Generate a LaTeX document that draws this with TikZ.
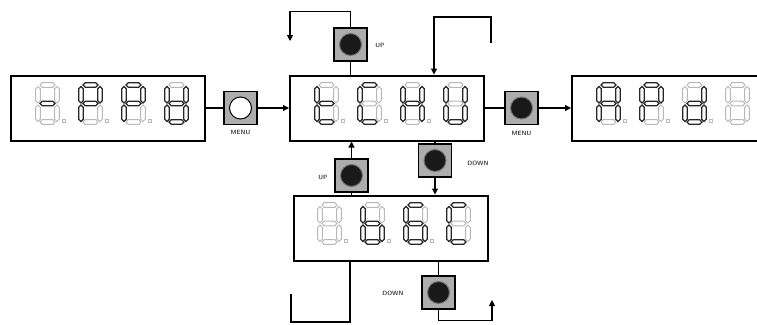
\documentclass[tikz,border=0pt]{standalone}
\usetikzlibrary{arrows.meta}

% segment outlines (local digit coordinates, 23 x 41)
\newcommand{\hseg}[2]{(#1+3,#2) -- (#1+5.2,#2-2.3) -- (#1+15.8,#2-2.3) -- (#1+18,#2) -- (#1+15.8,#2+2.3) -- (#1+5.2,#2+2.3) -- cycle}
\newcommand{\vseg}[2]{(#1,#2+1.5) -- (#1+2.3,#2+3.8) -- (#1+2.3,#2+15.7) -- (#1,#2+18) -- (#1-2.3,#2+15.7) -- (#1-2.3,#2+3.8) -- cycle}
% x, y, then a b c d e f g as on/off
\newcommand{\segdigit}[9]{%
  \begin{scope}[shift={(#1,#2)}]
    \draw[seg#3] \hseg{1}{2};
    \draw[seg#4] \vseg{21}{2};
    \draw[seg#5] \vseg{21}{20.5};
    \draw[seg#6] \hseg{1}{39};
    \draw[seg#7] \vseg{2}{20.5};
    \draw[seg#8] \vseg{2}{2};
    \draw[seg#9] \hseg{1}{20.5};
  \end{scope}}

\begin{document}
\begin{tikzpicture}[x=1pt, y=-1pt,
    disp/.style={draw, line width=2pt, minimum width=194pt, minimum height=65pt, inner sep=0pt},
    btn/.style={draw, line width=1.2pt, fill=black!32, minimum size=33pt, inner sep=0pt},
    knob/.style={circle, draw=black!55, line width=1pt, fill=black!90, minimum size=22pt, inner sep=0pt},
    knobw/.style={knob, draw=black, fill=white},
    lbl/.style={font=\sffamily\bfseries\fontsize{6.2}{7}\selectfont, text=black!75, inner sep=1pt},
    wire/.style={line width=1.1pt},
    arr/.style={wire, -{Triangle[length=6pt,width=6pt]}},
    segon/.style={draw=black!85, line width=1.2pt},
    segoff/.style={draw=black!28, line width=1pt}]
  \clip (0,0) rectangle (757,324);
  \fill[white] (0,0) rectangle (757,324);

  % displays
  \node[disp] (L) at (108,108) {};
  \node[disp] (C) at (387,108) {};
  \node[disp] (R) at (669,108) {};
  \node[disp] (B) at (390.5,228) {};

  % buttons
  \node[btn] (menuL) at (240.5,108) {};
  \node[btn] (menuR) at (521.5,108) {};
  \node[btn] (upT) at (350.5,44.5) {};
  \node[btn] (upB) at (351.5,175.5) {};
  \node[btn] (downT) at (435,160.5) {};
  \node[btn] (downB) at (438.5,292.5) {};
  \node[knobw] (menuL-k) at (menuL) {};
  \foreach \b in {menuR, upT, upB, downT, downB}
    \node[knob] (\b-k) at (\b) {};

  \node[lbl] (menuL-t) at (240.5,132) {MENU};
  \node[lbl] (menuR-t) at (521.5,133) {MENU};
  \node[lbl] (upT-t) at (380,45) {UP};
  \node[lbl] (upB-t) at (323,177) {UP};
  \node[lbl] (downT-t) at (478,163) {DOWN};
  \node[lbl] (downB-t) at (393,293) {DOWN};

  % digits
  \segdigit{36}{83}{off}{off}{off}{off}{off}{off}{on}
  \segdigit{79}{83}{on}{on}{off}{off}{on}{on}{on}
  \segdigit{122}{83}{on}{on}{off}{off}{on}{on}{on}
  \segdigit{165}{83}{off}{on}{on}{on}{on}{on}{on}

  \segdigit{315}{83}{off}{off}{off}{on}{on}{on}{on}
  \segdigit{358}{83}{on}{off}{off}{on}{on}{on}{off}
  \segdigit{401}{83}{off}{on}{on}{off}{on}{on}{on}
  \segdigit{444}{83}{off}{on}{on}{on}{on}{on}{off}

  \segdigit{597}{83}{on}{on}{on}{off}{on}{on}{on}
  \segdigit{640}{83}{on}{on}{off}{off}{on}{on}{on}
  \segdigit{683}{83}{off}{on}{on}{on}{on}{off}{on}
  \segdigit{726}{83}{off}{off}{off}{off}{off}{off}{off}

  \segdigit{318}{203}{off}{off}{off}{off}{off}{off}{off}
  \segdigit{361}{203}{off}{off}{on}{on}{on}{on}{on}
  \segdigit{404}{203}{on}{off}{on}{on}{on}{on}{on}
  \segdigit{447}{203}{on}{off}{off}{on}{on}{on}{off}

  % decimal points
  \foreach \x/\y in {62/119, 105/119, 148/119, 341/119, 384/119, 427/119,
                     623/119, 666/119, 709/119, 344/239, 387/239, 430/239}
    \draw[segoff] (\x,\y) rectangle ++(3,3);

  % connectors
  \draw[wire] (L.east) -- (menuL.west);
  \draw[arr] (menuL.east) -- (C.west);
  \draw[wire] (C.east) -- (menuR.west);
  \draw[arr] (menuR.east) -- (R.west);

  \draw[wire] (upT.south) -- (C.north -| upT);
  \coordinate (upTend) at (290,41);
  \draw[arr] (upT.north) -- ++(0,-16) -| (upTend);
  \coordinate (loopC) at (491,43);
  \coordinate (loopCx) at (434,17);
  \draw[arr] (loopC) |- (loopCx) -- (loopCx |- C.north);

  \draw[arr] (upB.north) -- (upB.north |- C.south);
  \draw[wire] (upB.south) -- (upB.south |- B.north);
  \draw[wire] (downT.north |- C.south) -- (downT.north);
  \draw[arr] (downT.south) -- (downT.south |- B.north);

  \draw[wire] (downB.north |- B.south) -- (downB.north);
  \coordinate (loopDend) at (492,300);
  \draw[arr] (downB.south) -- ++(0,11) -| (loopDend);
  \coordinate (loopBx) at (350,322);
  \coordinate (loopBend) at (291,294);
  \draw[wire] (loopBx |- B.south) -- (loopBx) -| (loopBend);
\end{tikzpicture}
\end{document}
